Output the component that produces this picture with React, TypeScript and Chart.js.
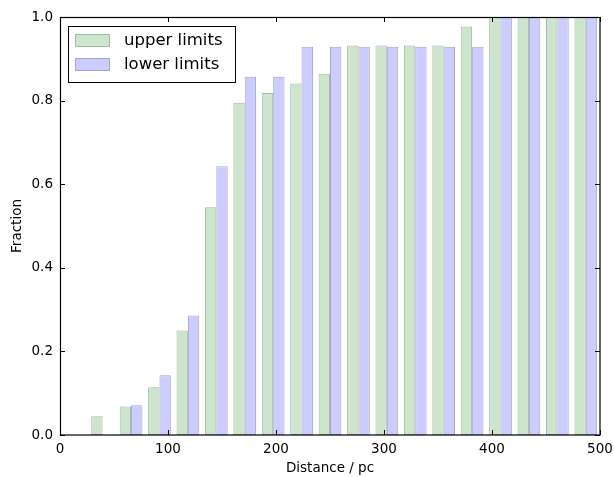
import React, { useEffect, useRef } from "react";
import { Chart, registerables } from "chart.js";

Chart.register(...registerables);

// Bin centres (19 equal bins between 0 and 500 pc)
const binCenters = [
  13.16, 39.47, 65.79, 92.11, 118.42, 144.74, 171.05, 197.37, 223.68, 250.0,
  276.32, 302.63, 328.95, 355.26, 381.58, 407.89, 434.21, 460.53, 486.84,
];
const upperLimits = [
  0, 0.045, 0.068, 0.114, 0.25, 0.545, 0.795, 0.818, 0.841, 0.864, 0.932,
  0.932, 0.932, 0.932, 0.977, 1.0, 1.0, 1.0, 1.0,
];
const lowerLimits = [
  0, 0, 0.071, 0.143, 0.286, 0.643, 0.857, 0.857, 0.929, 0.929, 0.929, 0.929,
  0.929, 0.929, 0.929, 1.0, 1.0, 1.0, 1.0,
];
const seriesNames = ["upper limits", "lower limits"];
const xTicks = [0, 100, 200, 300, 400, 500];
const yTicks = [0, 0.2, 0.4, 0.6, 0.8, 1.0];

const FONT = "'DejaVu Sans', sans-serif";
const greenFill = "rgb(204,229,204)";
const greenEdge = "rgb(165,185,165)";
const blueFill = "rgb(204,204,255)";
const blueEdge = "rgb(165,165,208)";

const framePlugin = {
  id: "frameTicks",
  afterDatasetsDraw(chart: any) {
    const { ctx, chartArea } = chart;
    const { left, right, top, bottom } = chartArea;
    const xs = chart.scales.x;
    const ys = chart.scales.y;
    const L = 5;
    ctx.save();
    ctx.strokeStyle = "#000";
    ctx.lineWidth = 1;
    ctx.beginPath();
    xTicks.forEach((v) => {
      const px = Math.round(xs.getPixelForValue(v)) + 0.5;
      ctx.moveTo(px, bottom);
      ctx.lineTo(px, bottom - L);
      ctx.moveTo(px, top);
      ctx.lineTo(px, top + L);
    });
    yTicks.forEach((v) => {
      const py = Math.round(ys.getPixelForValue(v)) + 0.5;
      ctx.moveTo(left, py);
      ctx.lineTo(left + L, py);
      ctx.moveTo(right, py);
      ctx.lineTo(right - L, py);
    });
    ctx.stroke();
    ctx.lineWidth = 1.2;
    ctx.strokeRect(left + 0.5, top + 0.5, right - left - 0.5, bottom - top - 0.5);

    // legend (matplotlib style, upper left inside the axes)
    const bx = left + 8;
    const by = top + 9;
    const bw = 167;
    const bh = 56;
    ctx.fillStyle = "#fff";
    ctx.fillRect(bx, by, bw, bh);
    ctx.lineWidth = 1;
    ctx.strokeStyle = "#000";
    ctx.strokeRect(bx + 0.5, by + 0.5, bw, bh);
    const fills = [greenFill, blueFill];
    const edges = [greenEdge, blueEdge];
    ctx.font = `16.5px ${FONT}`;
    ctx.textBaseline = "middle";
    ctx.textAlign = "left";
    seriesNames.forEach((name, i) => {
      const cy = by + 14 + i * 24;
      ctx.fillStyle = fills[i];
      ctx.fillRect(bx + 7, cy - 6, 35, 13);
      ctx.strokeStyle = edges[i];
      ctx.strokeRect(bx + 7.5, cy - 5.5, 34, 12);
      ctx.fillStyle = "#000";
      ctx.fillText(name, bx + 56, cy + 1);
    });
    ctx.restore();
  },
};

export default function App() {
  const ref = useRef<HTMLCanvasElement | null>(null);
  useEffect(() => {
    document.body.style.margin = "0";
    const canvas = ref.current!;
    const chart = new Chart(canvas, {
      type: "bar",
      data: {
        datasets: [
          {
            label: seriesNames[0],
            data: binCenters.map((x, i) => ({ x, y: upperLimits[i] })),
            backgroundColor: greenFill,
            borderColor: greenEdge,
            borderWidth: 1,
            borderSkipped: false,
          },
          {
            label: seriesNames[1],
            data: binCenters.map((x, i) => ({ x, y: lowerLimits[i] })),
            backgroundColor: blueFill,
            borderColor: blueEdge,
            borderWidth: 1,
            borderSkipped: false,
          },
        ],
      },
      options: {
        animation: false,
        responsive: false,
        maintainAspectRatio: false,
        layout: { padding: { top: 17, right: 14, left: 0, bottom: 0 } },
        datasets: { bar: { categoryPercentage: 0.8, barPercentage: 1.0, grouped: true } },
        plugins: { legend: { display: false }, tooltip: { enabled: false } },
        scales: {
          x: {
            type: "linear",
            min: 0,
            max: 500,
            offset: false,
            grid: { display: false, drawTicks: false, offset: false },
            border: { display: false },
            afterBuildTicks: (s: any) => {
              s.ticks = xTicks.map((v) => ({ value: v }));
            },
            afterFit: (s: any) => {
              s.height = 42;
              s.paddingLeft = 0;
              s.paddingRight = 0;
            },
            ticks: {
              color: "#000",
              padding: 6,
              font: { family: FONT, size: 13.5 },
              maxRotation: 0,
              callback: (v: any) => String(v),
            },
            title: {
              display: true,
              text: "Distance / pc",
              color: "#000",
              font: { family: FONT, size: 13.5 },
              padding: { top: 0, bottom: 0 },
            },
          },
          y: {
            type: "linear",
            min: 0,
            max: 1,
            grid: { display: false, drawTicks: false },
            border: { display: false },
            afterBuildTicks: (s: any) => {
              s.ticks = yTicks.map((v) => ({ value: v }));
            },
            afterFit: (s: any) => {
              s.width = 60;
              s.paddingTop = 0;
              s.paddingBottom = 0;
            },
            ticks: {
              color: "#000",
              padding: 7,
              font: { family: FONT, size: 13.5 },
              callback: (v: any) => Number(v).toFixed(1),
            },
            title: {
              display: true,
              text: "Fraction",
              color: "#000",
              font: { family: FONT, size: 13.5 },
              padding: { top: 9, bottom: 0 },
            },
          },
        },
      },
      plugins: [framePlugin],
    } as any);
    return () => chart.destroy();
  }, []);
  return (
    <div style={{ width: 614, height: 477 }}>
      <canvas ref={ref} width={614} height={477} style={{ display: "block" }} />
    </div>
  );
}
